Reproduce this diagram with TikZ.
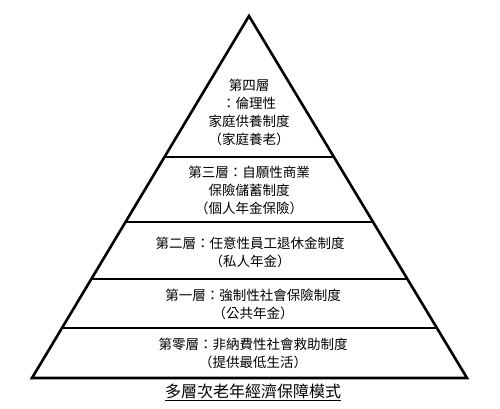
\documentclass[tikz,border=0pt]{standalone}
\usepackage{fontspec}
\setmainfont{Noto Sans CJK TC}
\usepackage{tikz}
\usetikzlibrary{calc}

\begin{document}
\begin{tikzpicture}[x=1pt, y=-1pt,
    layer/.style={align=center, font=\fontsize{13.5}{18}\selectfont, inner sep=0pt},
    edge/.style={line width=2.6pt, line join=miter},
    divide/.style={line width=1.3pt}
  ]
  \useasboundingbox (0,0) rectangle (500,408);
  \coordinate (apex) at (249,16);
  \coordinate (bl) at (32,378);
  \coordinate (br) at (467,378);
  \draw[edge] (bl) -- (apex) -- (br) -- cycle;
  % dividers between the layers
  \foreach \t/\n in {0.3895/a, 0.569/b, 0.7265/c, 0.8619/d} {
    \coordinate (l\n) at ($(apex)!\t!(bl)$);
    \coordinate (r\n) at ($(apex)!\t!(br)$);
    \draw[divide] (l\n) -- (r\n);
  }
  \node[layer] (four) at (249,112) {第四層\\：倫理性\\家庭供養制度\\（家庭養老）};
  \node[layer] (three) at (249,190) {第三層：自願性商業\\保險儲蓄制度\\（個人年金保險）};
  \node[layer] (two) at (250,252) {第二層：任意性員工退休金制度\\（私人年金）};
  \node[layer] (one) at (253,304) {第一層：強制性社會保險制度\\（公共年金）};
  \node[layer] (zero) at (253,353) {第零層：非納費性社會救助制度\\（提供最低生活）};
  \node[font=\fontsize{16}{18}\selectfont, inner sep=0pt] (title) at (253,392) {\underline{多層次老年經濟保障模式}};
\end{tikzpicture}
\end{document}
